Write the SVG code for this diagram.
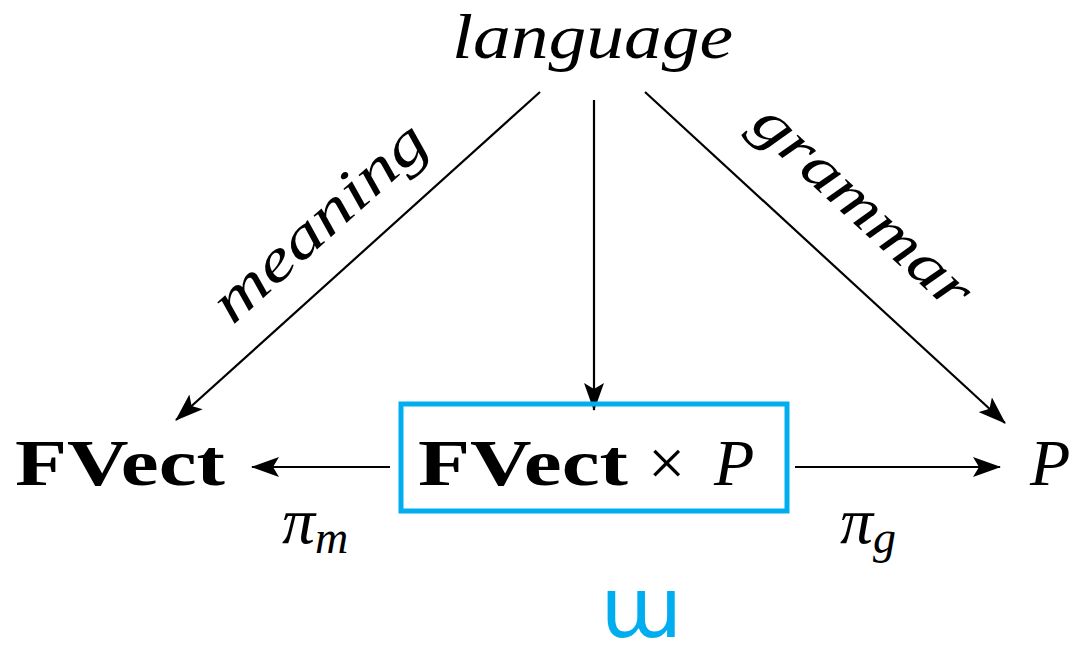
<svg xmlns="http://www.w3.org/2000/svg" width="1082" height="645" viewBox="0 0 1082 645">
<style>
.t{font-family:"Liberation Serif","DejaVu Serif",serif;fill:#000}
.i{font-style:italic}
.b{font-weight:bold}
.ln{stroke:#000;stroke-width:2.2;fill:none}
</style>
<defs>
<marker id="ah" viewBox="0 0 28 20" refX="27" refY="10" markerWidth="28" markerHeight="20" markerUnits="userSpaceOnUse" orient="auto">
<path d="M0,0 L28,10 L0,20 L6,10 Z" fill="#000"/>
</marker>
</defs>
<rect width="1082" height="645" fill="#fff"/>
<g id="connectors">
<line class="ln" x1="540" y1="92" x2="176" y2="420" marker-end="url(#ah)"/>
<line class="ln" x1="594" y1="100" x2="594" y2="410" marker-end="url(#ah)"/>
<line class="ln" x1="645" y1="92" x2="1005" y2="423" marker-end="url(#ah)"/>
<line class="ln" x1="390" y1="467" x2="252" y2="467" marker-end="url(#ah)"/>
<line class="ln" x1="795" y1="467" x2="1000" y2="467" marker-end="url(#ah)"/>
<text class="t i" font-size="60" text-anchor="middle" transform="translate(332,236) rotate(-42)" textLength="268" lengthAdjust="spacingAndGlyphs">meaning</text>
<text class="t i" font-size="60" text-anchor="middle" transform="translate(850,220) rotate(42.5)" textLength="275" lengthAdjust="spacingAndGlyphs">grammar</text>
<text class="t i" font-size="66" x="282" y="543">π<tspan font-size="46" dy="10">m</tspan></text>
<text class="t i" font-size="66" x="840" y="543">π<tspan font-size="46" dy="10">g</tspan></text>
</g>
<g id="language">
<text class="t i" font-size="64" x="452" y="58" textLength="281" lengthAdjust="spacingAndGlyphs">language</text>
</g>
<g id="fvect">
<text class="t b" font-size="66" x="15" y="485" textLength="210" lengthAdjust="spacingAndGlyphs">FVect</text>
</g>
<g id="product">
<rect x="401" y="404" width="386" height="107" fill="none" stroke="#00AEEF" stroke-width="5"/>
<text class="t" font-size="66" x="418" y="485"><tspan class="b" textLength="210" lengthAdjust="spacingAndGlyphs">FVect</tspan><tspan x="648" font-size="66">×</tspan><tspan class="i" x="714">P</tspan></text>
</g>
<g id="p">
<text class="t i" font-size="66" x="1030" y="485">P</text>
</g>
<g id="union">
<text font-family="DejaVu Sans,sans-serif" font-size="84" x="641" y="637" text-anchor="middle" fill="#00AEEF">ɯ</text>
</g>
</svg>
